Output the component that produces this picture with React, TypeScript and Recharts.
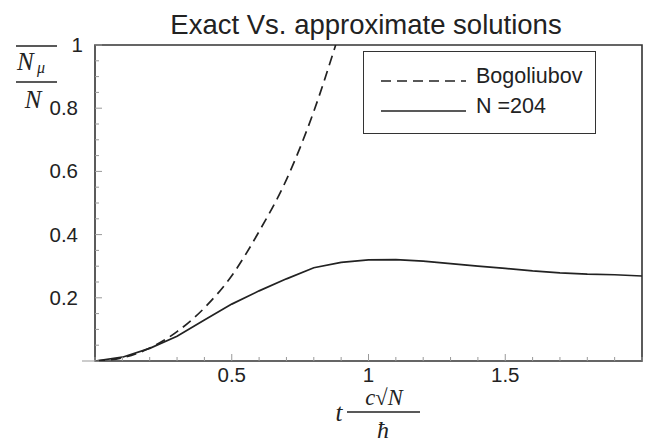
import React from "react";
import { LineChart, Line, XAxis, YAxis, ReferenceArea } from "recharts";

// t c sqrt(N) / hbar
const xValues = [0, 0.1, 0.2, 0.3, 0.4, 0.5, 0.6, 0.7, 0.8, 0.9, 1.0, 1.1, 1.2, 1.3, 1.4, 1.5, 1.6, 1.7, 1.8, 1.9, 2.0];
const exactN204 = [0, 0.012, 0.04, 0.078, 0.13, 0.18, 0.222, 0.26, 0.295, 0.312, 0.32, 0.321, 0.316, 0.308, 0.3, 0.293, 0.285, 0.279, 0.275, 0.273, 0.269];

const bogoliubovX = [0, 0.1, 0.2, 0.3, 0.4, 0.5, 0.6, 0.7, 0.8, 0.88];
const bogoliubov = [0, 0.01, 0.041, 0.093, 0.168, 0.27, 0.41, 0.574, 0.79, 1.0];

const xTicks = [0, 0.1, 0.2, 0.3, 0.4, 0.5, 0.6, 0.7, 0.8, 0.9, 1, 1.1, 1.2, 1.3, 1.4, 1.5, 1.6, 1.7, 1.8, 1.9, 2];
const xTickLabels = ["0.5", "1", "1.5"];
const yTicks = [0, 0.05, 0.1, 0.15, 0.2, 0.25, 0.3, 0.35, 0.4, 0.45, 0.5, 0.55, 0.6, 0.65, 0.7, 0.75, 0.8, 0.85, 0.9, 0.95, 1];
const yTickLabels = ["0.2", "0.4", "0.6", "0.8", "1"];

const legendItems = [
  { name: "Bogoliubov", dash: "10 6" },
  { name: "N =204", dash: "" },
];

const exactData = xValues.map((x, i) => ({ x, y: exactN204[i] }));
const bogoData = bogoliubovX.map((x, i) => ({ x, y: bogoliubov[i] }));

const W = 651;
const H = 442;
const LEFT = 95;
const RIGHT = 642;
const TOP = 45;
const BOTTOM = 361;

const sans = "'Liberation Sans', Arial, Helvetica, sans-serif";
const serif = "'Liberation Serif', 'Times New Roman', serif";
const ink = "#222";

const fmt = (v: number) => String(Math.round(v * 100) / 100);

const XTick = (props: any) => {
  const { x, y, payload } = props;
  const label = fmt(payload.value);
  const major = xTickLabels.includes(label);
  return (
    <g>
      <line x1={x} y1={y} x2={x} y2={y - (major ? 7 : 4)} stroke="#999" strokeWidth={1} />
      {major && (
        <text x={x} y={y + 21} textAnchor="middle" fontSize={20.5} fontFamily={sans} fill={ink}>
          {label}
        </text>
      )}
    </g>
  );
};

const YTick = (props: any) => {
  const { x, y, payload } = props;
  const label = fmt(payload.value);
  const major = yTickLabels.includes(label);
  return (
    <g>
      <line x1={x} y1={y} x2={x + (major ? 7 : 4)} y2={y} stroke="#999" strokeWidth={1} />
      {major && (
        <text
          x={label === "1" ? x - 12 : x - 17}
          y={y + 7}
          textAnchor="end"
          fontSize={20.5}
          fontFamily={sans}
          fill={ink}
        >
          {label}
        </text>
      )}
    </g>
  );
};

const LegendBox = () => (
  <div
    style={{
      position: "absolute",
      left: 363,
      top: 51,
      width: 231,
      height: 81,
      border: "1.5px solid #333",
      background: "#fff",
    }}
  >
    {legendItems.map((item, i) => (
      <div key={item.name} style={{ position: "relative", height: 30, marginTop: i === 0 ? 9 : 0 }}>
        <svg width={100} height={30} style={{ position: "absolute", left: 15, top: 0 }}>
          <line x1={2} y1={20} x2={87} y2={20} stroke={ink} strokeWidth={1.6} strokeDasharray={item.dash} />
        </svg>
        <span
          style={{
            position: "absolute",
            left: 112,
            top: 0,
            fontFamily: sans,
            fontSize: 21.5,
            lineHeight: "30px",
            color: ink,
          }}
        >
          {item.name}
        </span>
      </div>
    ))}
  </div>
);

export default function App() {
  return (
    <div style={{ position: "absolute", left: 0, top: 0, width: W, height: H, background: "#fff" }}>
      <LineChart
        width={W}
        height={H}
        margin={{ top: TOP, right: W - RIGHT, bottom: H - BOTTOM - 1, left: LEFT - 1 }}
      >
        <XAxis
          dataKey="x"
          type="number"
          domain={[0, 2]}
          ticks={xTicks}
          interval={0}
          height={1}
          tickSize={0}
          tickMargin={0}
          axisLine={false}
          tickLine={false}
          tick={<XTick />}
          allowDataOverflow
        />
        <YAxis
          dataKey="y"
          type="number"
          domain={[0, 1]}
          ticks={yTicks}
          interval={0}
          width={1}
          tickSize={0}
          tickMargin={0}
          axisLine={false}
          tickLine={false}
          tick={<YTick />}
          allowDataOverflow
        />
        <ReferenceArea x1={0} x2={2} y1={0} y2={1} fill="none" stroke="#333" strokeWidth={1.6} ifOverflow="visible" />
        <Line
          data={bogoData}
          dataKey="y"
          name="Bogoliubov"
          type="monotone"
          stroke={ink}
          strokeWidth={1.7}
          strokeDasharray="10 6"
          dot={false}
          isAnimationActive={false}
        />
        <Line
          data={exactData}
          dataKey="y"
          name="N =204"
          type="linear"
          stroke={ink}
          strokeWidth={1.7}
          dot={false}
          isAnimationActive={false}
        />
      </LineChart>
      <LegendBox />
      <svg
        width={W}
        height={H}
        style={{ position: "absolute", left: 0, top: 0, pointerEvents: "none" }}
      >
        <text x={366} y={34} textAnchor="middle" fontSize={27.5} fontFamily={sans} fill={ink}>
          Exact Vs. approximate solutions
        </text>
        {/* axis stub left of the frame */}
        <line x1={82} y1={BOTTOM} x2={LEFT} y2={BOTTOM} stroke="#aaa" strokeWidth={1.2} />
        {/* y label: overline N_mu over N */}
        <line x1={16} y1={46} x2={57} y2={46} stroke={ink} strokeWidth={1.3} />
        <text x={17} y={70} fontSize={25} fontFamily={serif} fontStyle="italic" fill={ink}>
          N
        </text>
        <text x={37} y={73} fontSize={16} fontFamily={serif} fontStyle="italic" fill={ink}>
          μ
        </text>
        <line x1={16} y1={82} x2={57} y2={82} stroke={ink} strokeWidth={1.3} />
        <text x={33} y={108} textAnchor="middle" fontSize={25} fontFamily={serif} fontStyle="italic" fill={ink}>
          N
        </text>
        {/* x label: t c sqrt(N) / hbar */}
        <text x={339} y={421} textAnchor="middle" fontSize={25} fontFamily={serif} fontStyle="italic" fill={ink}>
          t
        </text>
        <text x={384} y={405} textAnchor="middle" fontSize={22.5} fontFamily={serif} fontStyle="italic" fill={ink}>
          c√N
        </text>
        <line x1={347} y1={412} x2={420} y2={412} stroke={ink} strokeWidth={1.3} />
        <text x={383} y={438} textAnchor="middle" fontSize={24} fontFamily={serif} fontStyle="italic" fill={ink}>
          ħ
        </text>
      </svg>
    </div>
  );
}
